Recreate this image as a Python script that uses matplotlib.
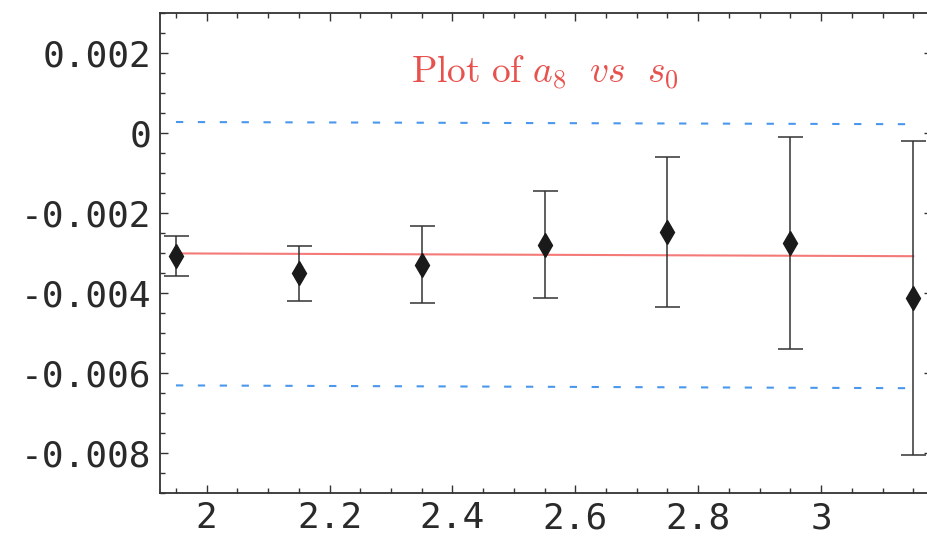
import numpy as np
import matplotlib.pyplot as plt
from matplotlib.ticker import MultipleLocator, FixedLocator

# data
s0 = [1.95, 2.15, 2.35, 2.55, 2.75, 2.95, 3.15]
a8 = [-0.00308, -0.00351, -0.00330, -0.00280, -0.00247, -0.00276, -0.00413]
a8_top = [-0.00257, -0.00282, -0.00232, -0.00145, -0.00059, -0.00011, -0.00021]
a8_bot = [-0.00357, -0.00421, -0.00426, -0.00413, -0.00436, -0.00541, -0.00805]

fit_x = [1.95, 3.15]
fit_y = [-0.00301, -0.00308]
band_hi = [0.000275, 0.00022]
band_lo = [-0.00631, -0.00638]

xticks = [2, 2.2, 2.4, 2.6, 2.8, 3]
xlabels = ["2", "2.2", "2.4", "2.6", "2.8", "3"]
yticks = [0.002, 0, -0.002, -0.004, -0.006, -0.008]
ylabels = ["0.002", "0", "-0.002", "-0.004", "-0.006", "-0.008"]

a8 = np.array(a8)
yerr = [a8 - np.array(a8_bot), np.array(a8_top) - a8]

fig = plt.figure(figsize=(9.27, 5.4), dpi=100)
ax = fig.add_axes([160 / 927, 47 / 540, 772 / 927, 480 / 540])

blue = "#4a98ee"
ax.plot(fit_x, band_hi, color=blue, lw=1.5, dashes=(3.5, 7))
ax.plot(fit_x, band_lo, color=blue, lw=1.5, dashes=(3.5, 7))
ax.plot(fit_x, fit_y, color="#f47a78", lw=1.5)
ax.errorbar(s0, a8, yerr=yerr, fmt="d", color="#1a1a1a", ms=12,
            ecolor="#333333", elinewidth=1.1, capsize=9, capthick=1.1)

ax.text(0.4987, 0.875, r"$\mathrm{Plot\ of}\ a_8\ \ vs\ \ s_0$", transform=ax.transAxes,
        color="#e8524e", fontsize=27, ha="center", va="center",
        math_fontfamily="cm")

ax.set_xlim(1.924, 3.1805)
ax.set_ylim(-0.009, 0.003)
ax.xaxis.set_major_locator(FixedLocator(xticks))
ax.set_xticklabels(xlabels)
ax.xaxis.set_minor_locator(MultipleLocator(0.05))
ax.yaxis.set_major_locator(FixedLocator(yticks))
ax.set_yticklabels(ylabels)
ax.yaxis.set_minor_locator(MultipleLocator(0.0005))

ax.tick_params(which="both", direction="in", top=True, right=True,
               color="#333333", width=1)
ax.tick_params(which="major", length=6, labelsize=26, labelcolor="#2a2a2a", pad=6)
ax.tick_params(which="minor", length=3.5)
for lab in ax.get_xticklabels() + ax.get_yticklabels():
    lab.set_family("DejaVu Sans Mono")
for sp in ax.spines.values():
    sp.set_color("#333333")
    sp.set_linewidth(1.3)

fig.savefig("out.png", dpi=100)
